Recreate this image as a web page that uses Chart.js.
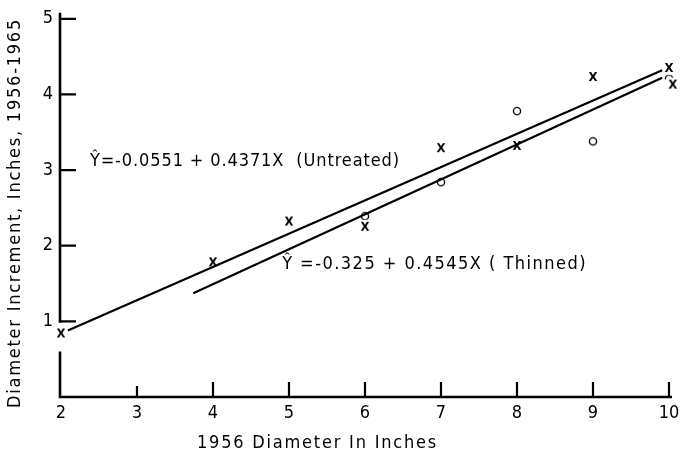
<!DOCTYPE html>
<html>
<head>
<meta charset="utf-8">
<script src="https://cdn.jsdelivr.net/npm/chart.js@4.4.1/dist/chart.umd.min.js"></script>
<style>
  html, body { margin: 0; padding: 0; background: #fff; }
  #wrap { width: 686px; height: 457px; }
</style>
</head>
<body>
<div id="wrap"><canvas id="chart"></canvas></div>
<script>
// === data ===
const xTicks = [2, 3, 4, 5, 6, 7, 8, 9, 10];
const yTicks = [1, 2, 3, 4, 5];

// untreated trees (x marks)
const untreatedX = [2, 4, 5, 6, 7, 8, 9, 10, 10.05];
const untreatedY = [0.84, 1.78, 2.32, 2.25, 3.29, 3.32, 4.23, 4.35, 4.13];
// thinned trees (o marks)
const thinnedX = [6, 7, 8, 9, 10];
const thinnedY = [2.39, 2.84, 3.78, 3.38, 4.21];

// fitted lines, end points as drawn
const untreatedLineX = [2.09, 9.91];
const untreatedLineY = [0.88, 4.32];
const thinnedLineX = [3.74, 9.91];
const thinnedLineY = [1.37, 4.22];

const xTitle = '1956 Diameter In Inches';
const yTitle = 'Diameter Increment, Inches, 1956-1965';
const untreatedLabel = '\u0176=-0.0551 + 0.4371X  (Untreated)';
const thinnedLabel = '\u0176 =-0.325 + 0.4545X ( Thinned)';

const FONT = '"DejaVu Sans Condensed", "Liberation Sans Narrow", "DejaVu Sans", sans-serif';

// marker glyphs on a white patch, so the lines break around them like the print
function makeMarker(kind) {
  const c = document.createElement('canvas');
  c.width = 24; c.height = 18;
  const g = c.getContext('2d');
  g.fillStyle = '#fff';
  g.beginPath();
  g.ellipse(12, 9, kind === 'x' ? 11 : 7, kind === 'x' ? 7 : 6, 0, 0, Math.PI * 2);
  g.fill();
  g.fillStyle = '#000';
  g.strokeStyle = '#000';
  if (kind === 'x') {
    g.font = 'bold 13px ' + FONT;
    g.textAlign = 'center';
    g.textBaseline = 'middle';
    g.fillText('X', 12, 9.5);
  } else {
    g.lineWidth = 1.3;
    g.beginPath();
    g.arc(12, 9, 3.6, 0, Math.PI * 2);
    g.stroke();
  }
  return c;
}
const xMark = makeMarker('x');
const oMark = makeMarker('o');

const toPts = (xs, ys) => xs.map((x, i) => ({ x, y: ys[i] }));

// text spread out to span a given range, like the lettering guide
function fitText(ctx, text, x0, x1, y) {
  ctx.letterSpacing = '0px';
  const w = ctx.measureText(text).width;
  const ls = (x1 - x0 - w) / text.length;
  ctx.letterSpacing = ls + 'px';
  ctx.textAlign = 'left';
  ctx.textBaseline = 'middle';
  ctx.fillText(text, x0, y);
  ctx.letterSpacing = '0px';
}

const axesAndText = {
  id: 'axesAndText',
  beforeDatasetsDraw(chart) {
    const { ctx, scales: { x, y } } = chart;
    ctx.save();
    ctx.strokeStyle = '#000';
    ctx.lineCap = 'butt';
    ctx.lineWidth = 2.6;
    const ax = x.getPixelForValue(2) - 1;
    const by = y.getPixelForValue(0);
    // y axis with a break below 1
    ctx.beginPath();
    ctx.moveTo(ax, y.getPixelForValue(5.08));
    ctx.lineTo(ax, y.getPixelForValue(0.98));
    ctx.moveTo(ax, y.getPixelForValue(0.6));
    ctx.lineTo(ax, by);
    ctx.lineTo(x.getPixelForValue(10.04), by);
    ctx.stroke();
    // inward ticks
    ctx.lineWidth = 2.2;
    ctx.beginPath();
    yTicks.forEach(v => {
      const py = y.getPixelForValue(v);
      ctx.moveTo(ax, py);
      ctx.lineTo(ax + 16, py);
    });
    xTicks.slice(1).forEach(v => {
      const px = x.getPixelForValue(v);
      ctx.moveTo(px, by);
      ctx.lineTo(px, by - (v === 3 ? 11 : 15));
    });
    ctx.stroke();
    ctx.restore();
  },
  afterDraw(chart) {
    const { ctx, scales: { x, y } } = chart;
    ctx.save();
    ctx.fillStyle = '#000';
    ctx.font = '18px ' + FONT;
    fitText(ctx, untreatedLabel, x.getPixelForValue(2.38), x.getPixelForValue(6.46), y.getPixelForValue(3.11));
    fitText(ctx, thinnedLabel, x.getPixelForValue(4.91), x.getPixelForValue(8.92), y.getPixelForValue(1.76));
    fitText(ctx, xTitle, 197, 438, 443);
    ctx.translate(15, 213);
    ctx.rotate(-Math.PI / 2);
    fitText(ctx, yTitle, -195, 195, 0);
    ctx.restore();
  }
};

new Chart(document.getElementById('chart'), {
  type: 'scatter',
  data: {
    datasets: [
      {
        label: 'Untreated fit',
        data: toPts(untreatedLineX, untreatedLineY),
        showLine: true,
        borderColor: '#000',
        borderWidth: 2.2,
        pointRadius: 0,
        order: 0
      },
      {
        label: 'Thinned fit',
        data: toPts(thinnedLineX, thinnedLineY),
        showLine: true,
        borderColor: '#000',
        borderWidth: 2.2,
        pointRadius: 0,
        order: 0
      },
      {
        label: 'Thinned',
        data: toPts(thinnedX, thinnedY),
        pointStyle: oMark,
        clip: false,
        order: 3
      },
      {
        label: 'Untreated',
        data: toPts(untreatedX, untreatedY),
        pointStyle: xMark,
        clip: false,
        order: 2
      }
    ]
  },
  options: {
    responsive: true,
    maintainAspectRatio: false,
    animation: false,
    layout: { padding: { left: 0, top: 13, right: 9.4, bottom: 0 } },
    scales: {
      x: {
        type: 'linear',
        min: 2,
        max: 10.1,
        afterBuildTicks: s => { s.ticks = xTicks.map(v => ({ value: v })); },
        afterFit: s => { s.height = 60; },
        grid: { display: false, drawTicks: false },
        border: { display: false },
        ticks: { color: '#000', padding: 6, font: { family: FONT, size: 18 }, maxRotation: 0 }
      },
      y: {
        type: 'linear',
        min: 0,
        max: 5,
        afterBuildTicks: s => { s.ticks = yTicks.map(v => ({ value: v })); },
        afterFit: s => { s.width = 61; },
        grid: { display: false, drawTicks: false },
        border: { display: false },
        ticks: { color: '#000', padding: 8, font: { family: FONT, size: 18 } }
      }
    },
    plugins: {
      legend: { display: false },
      tooltip: { enabled: false }
    }
  },
  plugins: [axesAndText]
});
</script>
</body>
</html>
